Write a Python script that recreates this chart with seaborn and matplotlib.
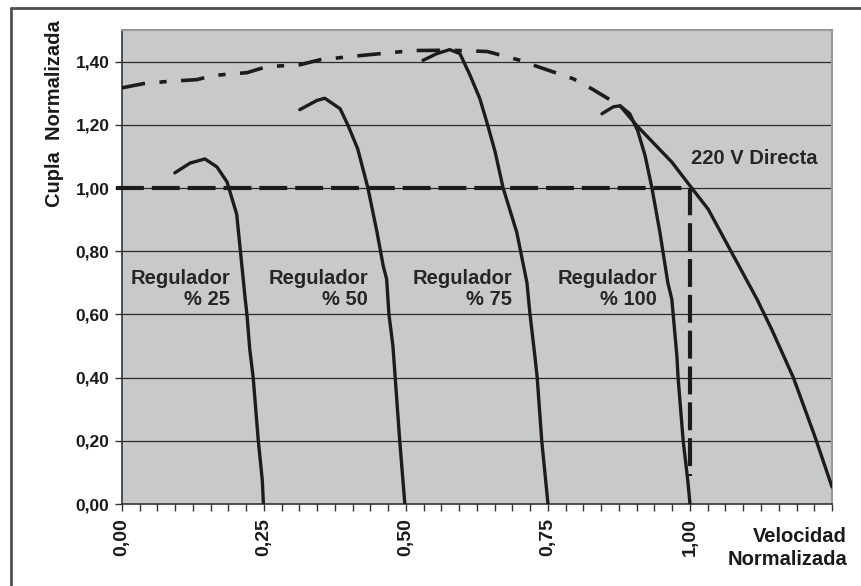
import numpy as np
import pandas as pd
import matplotlib
matplotlib.use("Agg")
import matplotlib.pyplot as plt
from matplotlib.ticker import FixedLocator, FuncFormatter
from matplotlib.lines import Line2D
import seaborn as sns

# Curves (Velocidad normalizada, Cupla normalizada)
REG25_X = [0.093, 0.120, 0.146, 0.167, 0.185, 0.202, 0.217, 0.220, 0.225, 0.231, 0.240, 0.247, 0.249]
REG25_Y = [1.048, 1.079, 1.092, 1.067, 1.019, 0.917, 0.648, 0.600, 0.489, 0.400, 0.200, 0.076, 0.000]

REG50_X = [0.313, 0.343, 0.357, 0.384, 0.398, 0.415, 0.433, 0.449, 0.460, 0.466, 0.470, 0.477, 0.481, 0.489, 0.498]
REG50_Y = [1.248, 1.277, 1.284, 1.251, 1.198, 1.124, 1.000, 0.860, 0.753, 0.711, 0.600, 0.500, 0.400, 0.200, 0.000]

REG75_X = [0.530, 0.554, 0.577, 0.595, 0.613, 0.630, 0.644, 0.657, 0.671, 0.695, 0.713, 0.718, 0.727, 0.731, 0.739, 0.750]
REG75_Y = [1.404, 1.425, 1.438, 1.425, 1.356, 1.283, 1.198, 1.114, 1.000, 0.860, 0.700, 0.606, 0.467, 0.400, 0.200, 0.000]

REG100_X = [0.845, 0.865, 0.877, 0.894, 0.908, 0.921, 0.933, 0.947, 0.961, 0.968, 0.977, 0.979, 0.988, 0.996, 1.000]
REG100_Y = [1.235, 1.257, 1.260, 1.235, 1.181, 1.102, 1.000, 0.860, 0.700, 0.648, 0.467, 0.400, 0.200, 0.076, 0.000]

DIRECTA_X = [0.000, 0.037, 0.079, 0.132, 0.160, 0.220, 0.255, 0.313, 0.349, 0.419, 0.512, 0.577, 0.643,
             0.701, 0.732, 0.794, 0.827, 0.877, 0.906, 0.968, 1.003, 1.032, 1.118, 1.144, 1.182, 1.220, 1.250]
DIRECTA_Y = [1.317, 1.330, 1.337, 1.343, 1.356, 1.365, 1.384, 1.390, 1.406, 1.419, 1.435, 1.436, 1.432,
             1.404, 1.384, 1.346, 1.314, 1.260, 1.198, 1.082, 1.000, 0.933, 0.648, 0.552, 0.400, 0.213, 0.054]
DIRECTA_SOLID_FROM = 0.877   # the rated curve is drawn dash-dot up to here, solid after

# Rated point reference (dashed): torque 1.0 at speed 1.0
REF_X = [-0.01, 1.000, 1.000]
REF_Y = [1.000, 1.000, 0.090]

REG_LABELS = ["Regulador\n% 25", "Regulador\n% 50", "Regulador\n% 75", "Regulador\n% 100"]
REG_LABEL_X = [0.190, 0.433, 0.687, 0.942]
REG_LABEL_Y = 0.68

Y_TICKS = [0.0, 0.2, 0.4, 0.6, 0.8, 1.0, 1.2, 1.4]
X_TICKS = [0.0, 0.25, 0.50, 0.75, 1.00]
X_MINOR = [k / 32 for k in range(41)]

INK = "#1c1c1c"
PANEL = "#c8c9cb"

sns.set_theme(style="white", rc={"axes.facecolor": PANEL})
plt.rcParams["font.family"] = ["Liberation Sans", "DejaVu Sans"]
plt.rcParams["font.weight"] = "bold"

fig = plt.figure(figsize=(8.62, 5.86), dpi=100)
ax = fig.add_axes([0.1415, 0.1399, 0.8237, 0.8089])

ax.set_xlim(0, 1.25)
ax.set_ylim(0, 1.5)

# grid lines (horizontal only)
for yv in Y_TICKS[1:]:
    ax.axhline(yv, color="#2a2a2a", lw=0.9, zorder=1)

curves = [(REG25_X, REG25_Y), (REG50_X, REG50_Y), (REG75_X, REG75_Y), (REG100_X, REG100_Y)]
for cx, cy in curves:
    df = pd.DataFrame({"x": cx, "y": cy})
    sns.lineplot(data=df, x="x", y="y", sort=False, estimator=None, ax=ax,
                 color=INK, lw=2.4, zorder=3)

directa = pd.DataFrame({"x": DIRECTA_X, "y": DIRECTA_Y})
dd = directa[directa["x"] <= DIRECTA_SOLID_FROM]
ds = directa[directa["x"] >= DIRECTA_SOLID_FROM]
sns.lineplot(data=dd, x="x", y="y", sort=False, estimator=None, ax=ax,
             color=INK, lw=2.6, zorder=3)
ax.lines[-1].set_dashes((6.5, 4, 2, 4))
ax.lines[-1].set_dash_capstyle("butt")
sns.lineplot(data=ds, x="x", y="y", sort=False, estimator=None, ax=ax,
             color=INK, lw=2.4, zorder=3)

ref = pd.DataFrame({"x": REF_X, "y": REF_Y})
sns.lineplot(data=ref, x="x", y="y", sort=False, estimator=None, ax=ax,
             color=INK, lw=3.0, zorder=4)
ax.lines[-1].set_dashes((6.7, 1.9))
ax.lines[-1].set_clip_on(False)

for lab, lx in zip(REG_LABELS, REG_LABEL_X):
    ax.text(lx, REG_LABEL_Y, lab, ha="right", va="center", multialignment="right",
            fontsize=14.5, fontweight="bold", color="#262626", linespacing=1.15, zorder=5)
ax.text(1.225, 1.092, "220 V Directa", ha="right", va="center",
        fontsize=14.5, fontweight="bold", color="#262626", zorder=5)

# ticks and labels
ax.yaxis.set_major_locator(FixedLocator(Y_TICKS))
ax.yaxis.set_major_formatter(FuncFormatter(lambda v, p: f"{v:.2f}".replace(".", ",")))
ax.xaxis.set_major_locator(FixedLocator(X_TICKS))
ax.xaxis.set_minor_locator(FixedLocator(X_MINOR))
ax.xaxis.set_major_formatter(FuncFormatter(lambda v, p: f"{v:.2f}".replace(".", ",")))
ax.tick_params(axis="y", which="major", direction="out", length=5, width=1, color="#333333",
               labelsize=12.5, labelcolor="#1a1a1a", pad=4, left=True)
ax.tick_params(axis="x", which="both", direction="out", length=5, width=1, color="#333333",
               bottom=True)
ax.tick_params(axis="x", which="major", labelsize=14, labelcolor="#1a1a1a", pad=5, labelrotation=90)
for t in ax.get_xticklabels() + ax.get_yticklabels():
    t.set_fontweight("bold")

ax.set_xlabel("")
ax.set_ylabel("")

for side in ["left", "bottom"]:
    ax.spines[side].set_color("#333333")
    ax.spines[side].set_linewidth(1.2)
for side in ["top", "right"]:
    ax.spines[side].set_color("#9a9a9a")
    ax.spines[side].set_linewidth(1.5)

fig.text(0.0638, 0.8055, "Cupla  Normalizada", rotation=90, ha="center", va="center",
         fontsize=14.5, fontweight="bold", color="#1a1a1a")
fig.text(0.9826, 0.0648, "Velocidad\nNormalizada", ha="right", va="center", multialignment="right",
         fontsize=14.5, fontweight="bold", color="#1a1a1a", linespacing=1.25)

# outer frame (left and top edges only, as in the scan)
fig.add_artist(Line2D([0.0122, 0.0122], [0.0, 0.987], transform=fig.transFigure, color="#505050", lw=2))
fig.add_artist(Line2D([0.0122, 1.0], [0.987, 0.987], transform=fig.transFigure, color="#505050", lw=2))

fig.savefig("out.png", dpi=100)
